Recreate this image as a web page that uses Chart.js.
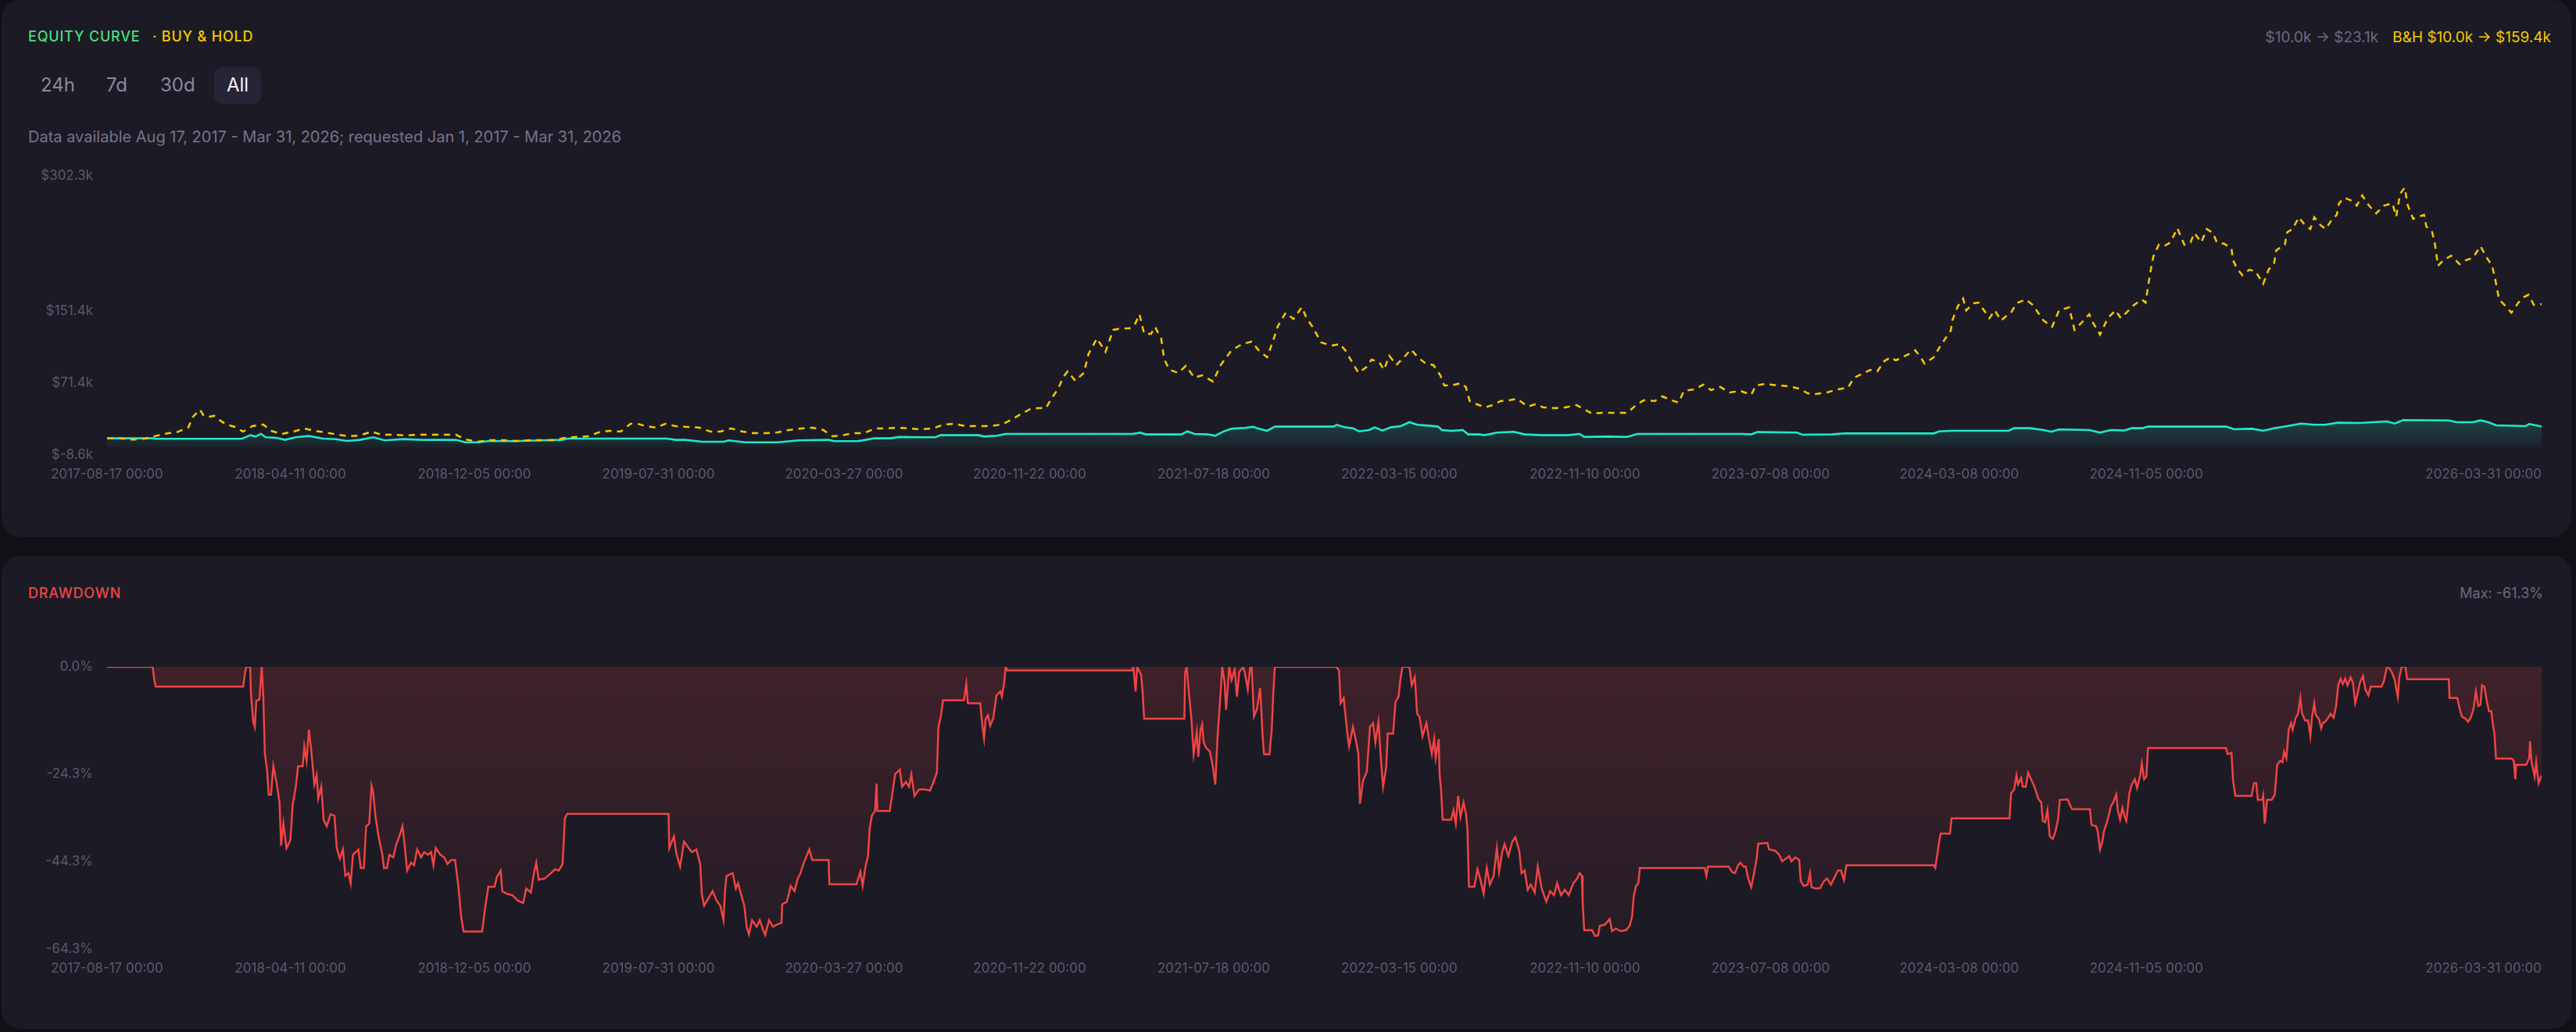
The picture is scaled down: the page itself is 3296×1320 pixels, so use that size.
<!DOCTYPE html>
<html><head><meta charset="utf-8">
<script src="https://cdn.jsdelivr.net/npm/chart.js@4.4.1/dist/chart.umd.min.js"></script>
<style>
html,body{margin:0;padding:0;background:#111017;width:3296px;height:1320px;overflow:hidden;font-family:Inter,"Noto Sans",sans-serif;}
.card{position:absolute;left:2px;width:3288px;background:#1c1b25;border-radius:24px;}
.t{position:absolute;line-height:1;white-space:nowrap;}
canvas{position:absolute;left:0;}
</style></head><body>
<div class="card" style="top:0;height:687px"></div>
<div class="card" style="top:711px;height:605px"></div>

<div class="t" style="left:36px;top:38px;font-size:18px;font-weight:500;letter-spacing:0.8px;color:#4ade80">EQUITY CURVE</div>
<div class="t" style="left:195px;top:38px;font-size:18px;font-weight:500;letter-spacing:0.8px;color:#f5c800">· BUY &amp; HOLD</div>
<div class="t" style="right:32px;top:38px;font-size:19px;color:#6b6a80">$10.0k → $23.1k<span style="color:#f5c800;margin-left:18px">B&amp;H $10.0k → $159.4k</span></div>

<div style="position:absolute;left:274px;top:86px;width:60px;height:47px;border-radius:10px;background:#262535"></div>
<div class="t" style="left:52px;top:97px;font-size:24px;color:#8a889f">24h</div>
<div class="t" style="left:136px;top:97px;font-size:24px;color:#8a889f">7d</div>
<div class="t" style="left:205px;top:97px;font-size:24px;color:#8a889f">30d</div>
<div class="t" style="left:290px;top:97px;font-size:24px;color:#f2f2f7">All</div>

<div class="t" style="left:36px;top:165px;font-size:20px;color:#75738b">Data available Aug 17, 2017 - Mar 31, 2026; requested Jan 1, 2017 - Mar 31, 2026</div>

<div class="t" style="left:36px;top:750px;font-size:18px;font-weight:500;letter-spacing:0.8px;color:#ef4444">DRAWDOWN</div>
<div class="t" style="right:42px;top:750px;font-size:18px;color:#6b6a80">Max: -61.3%</div>

<canvas id="c1" width="3296" height="470" style="top:170px"></canvas>
<canvas id="c2" width="3296" height="470" style="top:800px"></canvas>

<script>
// ---------- DATA (days since 2017-08-17, values) ----------
const startDate = '2017-08-17';
const endDate = '2026-03-31';
const xTickDates = ['2017-08-17','2018-04-11','2018-12-05','2019-07-31','2020-03-27','2020-11-22','2021-07-18','2022-03-15','2022-11-10','2023-07-08','2024-03-08','2024-11-05','2026-03-31'];
const equityTicksK = [-8.6, 71.4, 151.4, 302.3];
const drawdownTicks = [0, -24.3, -44.3, -64.3];

// Buy & Hold equity ($k)
const bhDays = [
0,17,33,49,63,80,91,105,111,120,
125,132,139,145,154,165,176,188,202,212,
226,241,255,268,282,299,313,327,342,355,
373,386,404,421,436,451,463,478,494,511,
530,547,561,578,592,605,622,636,650,664,
677,686,696,710,722,735,749,766,780,793,
807,822,836,853,867,882,898,912,926,938,
950,964,979,993,1006,1022,1037,1051,1068,1082,
1096,1110,1124,1141,1157,1169,1181,1194,1204,1214,
1221,1230,1236,1242,1252,1263,1269,1280,1291,1301,
1312,1322,1329,1335,1341,1350,1355,1363,1367,1374,
1385,1395,1406,1416,1430,1440,1454,1468,1480,1489,
1500,1507,1514,1524,1534,1545,1551,1558,1570,1583,
1594,1601,1608,1618,1628,1635,1645,1651,1658,1667,
1677,1686,1695,1705,1715,1724,1729,1739,1750,1757,
1762,1771,1782,1792,1802,1813,1823,1837,1847,1857,
1872,1886,1900,1909,1920,1934,1948,1966,1977,1987,
2001,2011,2023,2032,2039,2053,2064,2074,2086,2098,
2112,2126,2132,2144,2160,2175,2188,2199,2209,2224,
2238,2251,2259,2270,2280,2289,2298,2306,2313,2321,
2330,2338,2345,2350,2362,2369,2377,2384,2386,2393,
2400,2404,2413,2420,2427,2434,2441,2449,2456,2462,
2469,2481,2490,2497,2504,2515,2524,2537,2544,2553,
2563,2568,2577,2587,2597,2604,2614,2621,2631,2636,
2639,2643,2646,2653,2660,2668,2677,2686,2694,2699,
2708,2715,2723,2728,2738,2747,2749,2754,2761,2770,
2778,2788,2795,2802,2805,2816,2819,2826,2834,2842,
2849,2854,2862,2869,2876,2883,2886,2893,2903,2909,
2916,2924,2934,2944,2955,2960,2965,2971,2975,2982,
2989,2996,2999,3006,3010,3014,3021,3031,3042,3050,
3059,3069,3076,3084,3088,3093,3100,3109,3118,3125,
3131,3138,3148];
const bhValues = [
10.0,10.0,8.5,9.7,12.6,15.8,17.0,22.1,34,42,
35,34,35,30.6,25.4,22.8,17.5,23.6,25.4,18.4,
14.9,17.5,21,18.4,16.6,14,12.3,13.2,17.5,14,
14,13.2,14,14,14,14,8.8,6.2,7.9,7.9,
7.1,7.9,7.9,8.0,10.6,11.4,12.3,16.7,18.4,17.5,
26.2,26.2,23.6,21.9,26.2,23.6,22.8,21.9,17.5,17.5,
21,17.5,15.8,15.8,16.7,19.3,21,21.9,19.3,12.3,
13.2,15.8,15.8,21,21,21.9,21,20.1,21,25.4,
26.2,23.6,23.6,23.6,25.4,30.6,36.7,42.8,43.7,43.7,
54.1,65.4,77.6,84.6,74.1,82.9,103.8,121.2,106.4,130.8,
132.5,132.5,136.9,148.2,126.4,126.4,134.2,121.2,97.7,86.3,
82.9,90.7,77.6,80.2,73.3,91.6,108.1,115.1,117.7,108.1,
100.3,116.8,135.1,149.9,142.9,156.0,143.8,135.1,116.8,113.3,
115.1,108.1,97.7,82.9,89,97.7,95.0,86.3,102,91.6,
100.3,109,100.3,93.3,91.6,80.2,68.9,68.9,71.5,67.2,
51.5,48.0,44.5,47.1,51.5,52.4,54.1,45.4,48.0,44.5,
43.7,44.5,47.1,42.8,37.6,38.4,38.4,38.4,47.1,52.4,
51.5,56.7,52.4,49.8,62.8,64.6,69.8,63.7,67.2,61.1,
62.8,58.5,68.9,70.6,68.9,68.0,65.4,60.2,59.3,61.1,
64.6,66.3,77.6,82.0,86.3,84.6,95.9,100.3,96.8,100.3,
103.8,108.1,100.3,93.3,100.3,110.7,121.2,129.9,141.2,156.9,
165.6,152.5,160.4,161.2,152.5,143.8,152.5,141.2,146.4,149.9,
160.4,164.7,158.6,149.9,141.2,134.2,152.5,156.0,130.8,138.6,
148.2,138.6,125.5,143.8,152.5,143.8,152.5,158.6,164.7,161.2,
178.7,199.6,212.6,225.7,224.0,228.3,244.0,225.7,228.3,238.7,
228.3,243.1,238.7,228.3,226.6,221.3,208.3,199.6,191.7,197.8,
196.1,182.1,197.8,204.8,219.6,225.7,239.6,243.1,256.2,247.5,
243.1,256.2,247.5,243.1,252.7,258.8,271.8,277.9,274.5,269.2,
280.6,270.1,260.5,269.2,271.8,257.0,282.3,289.3,269.2,254.4,
257.0,258.8,245.7,241.4,226.6,202.2,208.3,213.5,204.0,208.3,
210.9,224.0,212.6,202.2,187.4,164.7,158.6,149.9,161.2,167.3,
169.9,158.6,159.4];

// Strategy equity ($k)
const eqDays = [
0,60,63,174,180,185,192,199,205,219,
230,244,261,279,296,310,327,344,359,383,
407,451,463,480,494,526,561,588,595,724,
735,748,769,797,804,825,867,894,933,940,
971,992,1013,1024,1055,1071,1078,1127,1134,1151,
1162,1326,1336,1343,1389,1397,1406,1423,1433,1444,
1454,1472,1482,1489,1500,1510,1586,1590,1601,1611,
1619,1632,1639,1649,1660,1673,1684,1694,1708,1721,
1726,1738,1753,1760,1774,1781,1798,1819,1833,1857,
1889,1904,1910,1941,1965,1979,2115,2126,2134,2185,
2192,2230,2247,2362,2369,2386,2459,2466,2486,2504,
2514,2524,2563,2577,2591,2608,2618,2632,2639,2740,
2750,2774,2788,2802,2819,2837,2854,2868,2885,2913,
2948,2958,2969,3028,3038,3059,3069,3079,3089,3127,
3132,3148];
const eqValues = [
10.0,10.0,9.5,9.5,11.5,13.5,12.0,15.0,11.2,10.6,
8.3,11.2,12.6,9.7,9.1,7.1,8.3,11.2,7.7,9.1,
8.3,8.3,5.6,5.6,7.1,6.8,7.7,8.3,9.7,9.7,
8.3,8.3,6.2,6.2,7.7,5.6,5.6,7.7,8.3,6.8,
6.8,10.0,10.0,11.5,11.2,11.2,13.5,13.5,12.0,12.9,
14.9,14.9,16.3,14.4,14.4,17.8,14.9,14.4,12.9,17.8,
20.7,21.6,22.8,20.7,18.4,23.1,23.1,25.1,22.2,21.3,
17.8,19.3,22.2,18.7,22.2,23.6,28.0,25.1,24.2,23.1,
19.3,18.3,19.3,14.4,14.4,13.5,16.4,17.3,14.4,13.5,
13.5,14.9,11.5,12.0,11.5,14.9,14.9,14.4,17.0,16.4,
14.1,14.4,15.5,15.5,17.8,18.4,18.4,21.3,21.3,19.3,
17.3,19.9,19.3,16.4,19.3,18.7,21.3,21.3,23.1,23.1,
20.2,20.7,18.4,21.3,23.6,26.5,25.1,25.1,27.4,27.1,
28.9,26.5,30.3,30.0,28.0,28.0,30.0,28.0,24.5,23.6,
26.0,23.1];

// Drawdown (%)
const ddDays = [
0,59,61,63,176,178,180,185,186,189,
191,193,197,200,202,204,207,209,212,215,
219,223,225,228,232,237,240,244,247,253,
255,258,261,264,268,271,273,277,280,284,
289,294,297,301,305,308,312,315,318,325,
328,332,335,339,342,344,347,351,356,358,
362,365,370,374,378,382,385,388,393,397,
401,406,410,415,419,422,425,431,436,440,
445,450,454,458,461,485,489,493,501,504,
509,511,517,524,531,538,542,548,552,555,
558,566,574,579,584,589,592,595,726,727,
733,736,741,746,751,756,762,767,769,772,
777,783,788,793,797,799,801,809,813,816,
820,824,827,830,834,840,844,848,851,856,
861,866,872,873,879,884,889,893,896,901,
908,912,933,934,969,974,977,981,984,986,
989,993,995,996,1012,1016,1019,1025,1028,1033,
1037,1040,1044,1050,1057,1064,1068,1073,1075,1078,
1081,1108,1111,1113,1129,1132,1134,1136,1139,1142,
1146,1150,1155,1157,1160,1162,1164,1325,1327,1330,
1332,1337,1339,1341,1393,1394,1396,1399,1402,1405,
1409,1411,1414,1416,1418,1421,1426,1430,1433,1436,
1439,1442,1445,1447,1451,1454,1458,1461,1464,1469,
1471,1475,1478,1480,1483,1487,1491,1494,1496,1503,
1506,1508,1510,1590,1593,1595,1599,1604,1606,1611,
1615,1618,1620,1624,1629,1633,1637,1640,1644,1647,
1650,1654,1656,1663,1666,1670,1672,1675,1684,1687,
1691,1694,1697,1701,1706,1709,1713,1716,1718,1722,
1723,1725,1727,1738,1741,1744,1747,1750,1754,1757,
1759,1761,1768,1772,1775,1780,1784,1788,1793,1797,
1800,1804,1807,1812,1817,1821,1826,1829,1833,1837,
1841,1846,1850,1855,1861,1866,1871,1875,1880,1885,
1890,1896,1901,1904,1907,1908,1910,1920,1924,1928,
1930,1937,1943,1946,1951,1957,1964,1969,1972,1974,
1977,1980,1982,2066,2068,2070,2097,2101,2105,2109,
2112,2116,2119,2122,2126,2129,2133,2135,2147,2149,
2157,2162,2166,2171,2175,2178,2183,2188,2190,2194,
2199,2202,2204,2209,2215,2220,2224,2229,2233,2238,
2242,2246,2249,2362,2364,2366,2369,2371,2383,2385,
2460,2462,2466,2469,2471,2475,2477,2481,2484,2487,
2491,2494,2497,2501,2503,2506,2509,2512,2516,2519,
2523,2525,2535,2539,2541,2564,2566,2572,2574,2577,
2580,2582,2586,2589,2591,2594,2598,2600,2603,2606,
2609,2611,2615,2618,2622,2625,2629,2631,2634,2637,
2639,2740,2742,2747,2749,2752,2773,2776,2779,2781,
2787,2788,2790,2793,2799,2803,2806,2810,2813,2815,
2818,2821,2824,2826,2830,2833,2836,2838,2842,2846,
2849,2851,2854,2856,2860,2863,2865,2868,2872,2875,
2879,2882,2885,2888,2891,2894,2897,2901,2904,2907,
2910,2913,2917,2920,2924,2927,2941,2944,2948,2951,
2955,2958,2962,2964,2967,2972,2974,3028,3029,3039,
3042,3045,3050,3053,3057,3060,3063,3066,3069,3071,
3074,3077,3080,3083,3085,3087,3089,3109,3112,3114,
3115,3128,3132,3133,3135,3139,3141,3144,3148];
const ddValues = [
0,0,-2.9,-4.5,-4.5,-1.8,0,0,-5.9,-12.5,
-13.7,-7.7,-7.4,0,-6.8,-19.6,-23.8,-29.1,-29.1,-22.6,
-26.2,-30.9,-40.7,-35.7,-41.3,-39.5,-31.5,-27.3,-22.6,-22.6,
-18.1,-21.4,-14.3,-19.0,-26.8,-24.7,-30.0,-27.3,-34.8,-36.3,
-33.6,-33.9,-41.3,-43.7,-41.6,-47.6,-47.0,-49.3,-42.8,-41.6,
-45.8,-45.8,-36.3,-35.7,-27.1,-28.5,-33.9,-38.6,-42.8,-45.8,
-45.8,-42.8,-43.4,-40.4,-38.6,-36.3,-41.0,-46.4,-44.6,-45.2,
-41.6,-43.4,-42.2,-42.8,-42.2,-45.2,-41.3,-42.8,-43.4,-44.9,
-44.0,-44.0,-49.6,-57.1,-60.3,-60.3,-54.7,-50.1,-50.1,-47.9,
-46.4,-51.1,-51.7,-52.0,-53.2,-53.8,-50.5,-51.4,-47.0,-44.6,
-48.5,-48.2,-47.0,-46.1,-46.4,-44.9,-34.5,-33.5,-33.5,-41.3,
-38.6,-42.5,-45.5,-39.8,-41.0,-42.2,-41.6,-44.9,-51.7,-54.4,
-52.9,-51.1,-53.2,-54.4,-57.7,-51.1,-47.6,-47.0,-50.5,-49.3,
-52.0,-54.4,-59.2,-60.9,-57.7,-59.2,-57.7,-59.8,-61.1,-57.7,
-59.2,-58.7,-58.3,-54.1,-53.5,-49.9,-51.1,-48.2,-47.3,-44.6,
-41.6,-44.0,-44.0,-49.5,-49.5,-46.7,-49.9,-45.2,-43.1,-36.9,
-33.9,-32.8,-26.6,-32.8,-32.8,-28.2,-24.4,-23.4,-27.3,-26.2,
-27.3,-24.5,-29.4,-27.9,-27.9,-28.2,-26.5,-24.1,-13.7,-11.3,
-7.6,-7.6,-3.9,-8.3,-8.3,-13.7,-16.3,-11.9,-11.0,-13.4,
-11.6,-6.5,-5.6,-6.8,-3.6,0,-0.8,-0.8,0,-5.6,
0,-1.8,-5.6,-11.8,-11.8,-1.2,0,-6.2,-11.6,-19.9,
-14.9,-20.5,-14.3,-13.1,-17.2,-18.4,-19.3,-22.9,-26.8,-15.5,
-8.3,0,-3.6,-9.8,0,-3.0,-0.6,-6.8,-1.2,0,
-1.2,-5.1,-0.3,0,-11.3,-9.5,-4.8,-15.2,-19.9,-19.9,
-14.3,-5.9,0,0,-0.9,-8.3,-7.1,-15.5,-18.1,-13.7,
-16.9,-19.9,-31.2,-25.9,-23.8,-13.7,-12.8,-17.2,-12.5,-20.8,
-27.3,-22.9,-15.2,-15.2,-8.0,-6.8,-3.3,0,0,-4.2,
-2.4,-10.7,-11.3,-15.8,-12.8,-16.1,-19.9,-16.4,-20.8,-16.4,
-24.4,-28.2,-34.8,-34.8,-32.7,-35.7,-29.4,-34.2,-30.9,-33.3,
-36.9,-50.1,-50.1,-46.1,-47.9,-51.7,-45.8,-49.6,-47.6,-41.3,
-46.7,-42.2,-40.4,-43.1,-39.8,-38.8,-41.9,-47.0,-46.4,-50.8,
-49.6,-51.4,-45.5,-50.5,-53.5,-51.1,-52.0,-49.3,-52.0,-50.8,
-52.0,-49.3,-48.2,-47.0,-47.6,-53.5,-60.0,-60.0,-61.3,-61.2,
-59.0,-58.7,-57.4,-60.2,-59.6,-60.2,-60.0,-58.9,-56.8,-52.3,
-49.9,-49.3,-45.8,-45.8,-47.6,-45.5,-45.5,-46.7,-47.0,-45.2,
-44.6,-45.5,-45.5,-48.2,-50.2,-47.6,-43.7,-40.3,-40.1,-41.6,
-41.9,-42.8,-44.3,-43.7,-43.1,-44.3,-43.4,-44.0,-48.8,-49.9,
-49.6,-47.0,-50.2,-50.5,-50.4,-48.8,-48.2,-49.6,-48.2,-46.4,
-46.4,-48.6,-45.2,-45.2,-45.8,-43.4,-39.8,-38.0,-38.0,-34.5,
-34.5,-28.8,-27.9,-24.7,-26.8,-25.3,-27.3,-27.3,-24.1,-25.3,
-26.8,-28.2,-30.0,-30.9,-35.1,-35.4,-32.7,-38.6,-39.2,-37.8,
-34.5,-30.3,-30.2,-31.8,-32.4,-32.4,-36.0,-36.3,-37.5,-41.6,
-39.8,-37.5,-35.4,-33.3,-31.8,-30.9,-29.1,-32.7,-34.8,-32.1,
-34.2,-35.1,-28.8,-26.8,-25.6,-27.6,-24.7,-22.0,-25.6,-25.0,
-18.5,-18.5,-19.9,-19.6,-25.9,-29.4,-29.4,-26.5,-26.5,-30.3,
-30.3,-29.4,-35.7,-30.3,-30.3,-29.1,-22.3,-21.4,-21.7,-19.3,
-20.8,-14.3,-12.8,-14.3,-11.6,-10.7,-7.1,-10.4,-12.2,-12.2,
-15.8,-11.6,-8.3,-11.0,-11.9,-14.0,-12.8,-12.5,-11.6,-10.7,
-11.6,-9.2,-4.2,-2.7,-3.9,-2.7,-4.2,-2.4,-3.6,-8.3,
-6.2,-3.6,-2.1,-5.1,-6.5,-4.5,-4.5,-3.3,0,-0.3,
-1.5,-3.0,-6.8,-2.4,0,0,-2.8,-2.8,-7.1,-7.1,
-9.5,-11.3,-11.9,-12.5,-11.3,-9.5,-5.6,-8.9,-8.6,-4.2,
-4.5,-7.7,-10.1,-10.1,-13.1,-15.2,-20.9,-20.9,-21.4,-25.6,
-22.3,-22.3,-20.8,-16.9,-21.7,-25.0,-21.7,-26.5,-24.7];

// ---------- helpers ----------
const T0 = Date.parse(startDate + 'T00:00:00Z');
const dayOf = s => Math.round((Date.parse(s + 'T00:00:00Z') - T0) / 86400000);
const lastDay = dayOf(endDate);
const xTickDays = xTickDates.map(dayOf);
const pts = (d, v) => d.map((x, i) => ({x: x, y: v[i]}));

const TICK_COLOR = '#5b5a70';
const TICK_FONT = {family: 'Inter', size: 17};

function xAxis(h) {
  return {
    type: 'linear', min: 0, max: lastDay,
    grid: {display: false, drawTicks: false}, border: {display: false},
    afterBuildTicks: s => { s.ticks = [{value: 0}].concat(xTickDays.map(v => ({value: v}))); },
    afterFit: s => { s.height = h; },
    ticks: {
      autoSkip: false, maxRotation: 0, minRotation: 0, align: 'inner', padding: 15,
      color: TICK_COLOR, font: TICK_FONT,
      callback: (v, i) => i === 0 ? '' : xTickDates[i - 1] + ' 00:00'
    }
  };
}
function yAxis(min, max, ticks, fmt) {
  return {
    type: 'linear', min: min, max: max,
    grid: {display: false, drawTicks: false}, border: {display: false},
    afterBuildTicks: s => { s.ticks = ticks.map(v => ({value: v})); },
    afterFit: s => { s.width = 137; },
    ticks: {padding: 18, color: TICK_COLOR, font: TICK_FONT, callback: fmt}
  };
}
const baseOptions = {
  responsive: false, animation: false, devicePixelRatio: 1,
  plugins: {legend: {display: false}, tooltip: {enabled: false}},
  elements: {point: {radius: 0}, line: {tension: 0}}
};

new Chart(document.getElementById('c1'), {
  type: 'line',
  data: {
    datasets: [
      {
        label: 'Buy & Hold', data: pts(bhDays, bhValues),
        borderColor: '#f5c800', borderWidth: 2.5, borderDash: [8, 7],
        pointRadius: 0, fill: false
      },
      {
        label: 'Equity', data: pts(eqDays, eqValues),
        borderColor: '#1fe8c9', borderWidth: 2.6, pointRadius: 0, fill: 'origin',
        backgroundColor: ctx => {
          const c = ctx.chart; if (!c.chartArea) return 'rgba(0,0,0,0)';
          const y = c.scales.y;
          const g = c.ctx.createLinearGradient(0, y.getPixelForValue(40), 0, y.getPixelForValue(0));
          g.addColorStop(0, 'rgba(31,232,201,0.26)');
          g.addColorStop(1, 'rgba(31,232,201,0.03)');
          return g;
        }
      }
    ]
  },
  options: Object.assign({}, baseOptions, {
    layout: {padding: {top: 55, right: 44, left: 0, bottom: 0}},
    scales: {
      x: xAxis(58),
      y: yAxis(-8.6, 302.3, equityTicksK, v => '$' + v.toFixed(1) + 'k')
    }
  })
});

new Chart(document.getElementById('c2'), {
  type: 'line',
  data: {
    datasets: [{
      label: 'Drawdown', data: pts(ddDays, ddValues),
      borderColor: '#ef4444', borderWidth: 2.5, pointRadius: 0, fill: 'origin',
      backgroundColor: ctx => {
        const c = ctx.chart; const a = c.chartArea; if (!a) return 'rgba(0,0,0,0)';
        const g = c.ctx.createLinearGradient(0, a.top, 0, a.bottom);
        g.addColorStop(0, 'rgba(239,68,68,0.17)');
        g.addColorStop(1, 'rgba(239,68,68,0.04)');
        return g;
      }
    }]
  },
  options: Object.assign({}, baseOptions, {
    layout: {padding: {top: 53, right: 44, left: 0, bottom: 0}},
    scales: {
      x: xAxis(56),
      y: yAxis(-64.3, 0, drawdownTicks, v => v.toFixed(1) + '%')
    }
  })
});
</script>
</body></html>
